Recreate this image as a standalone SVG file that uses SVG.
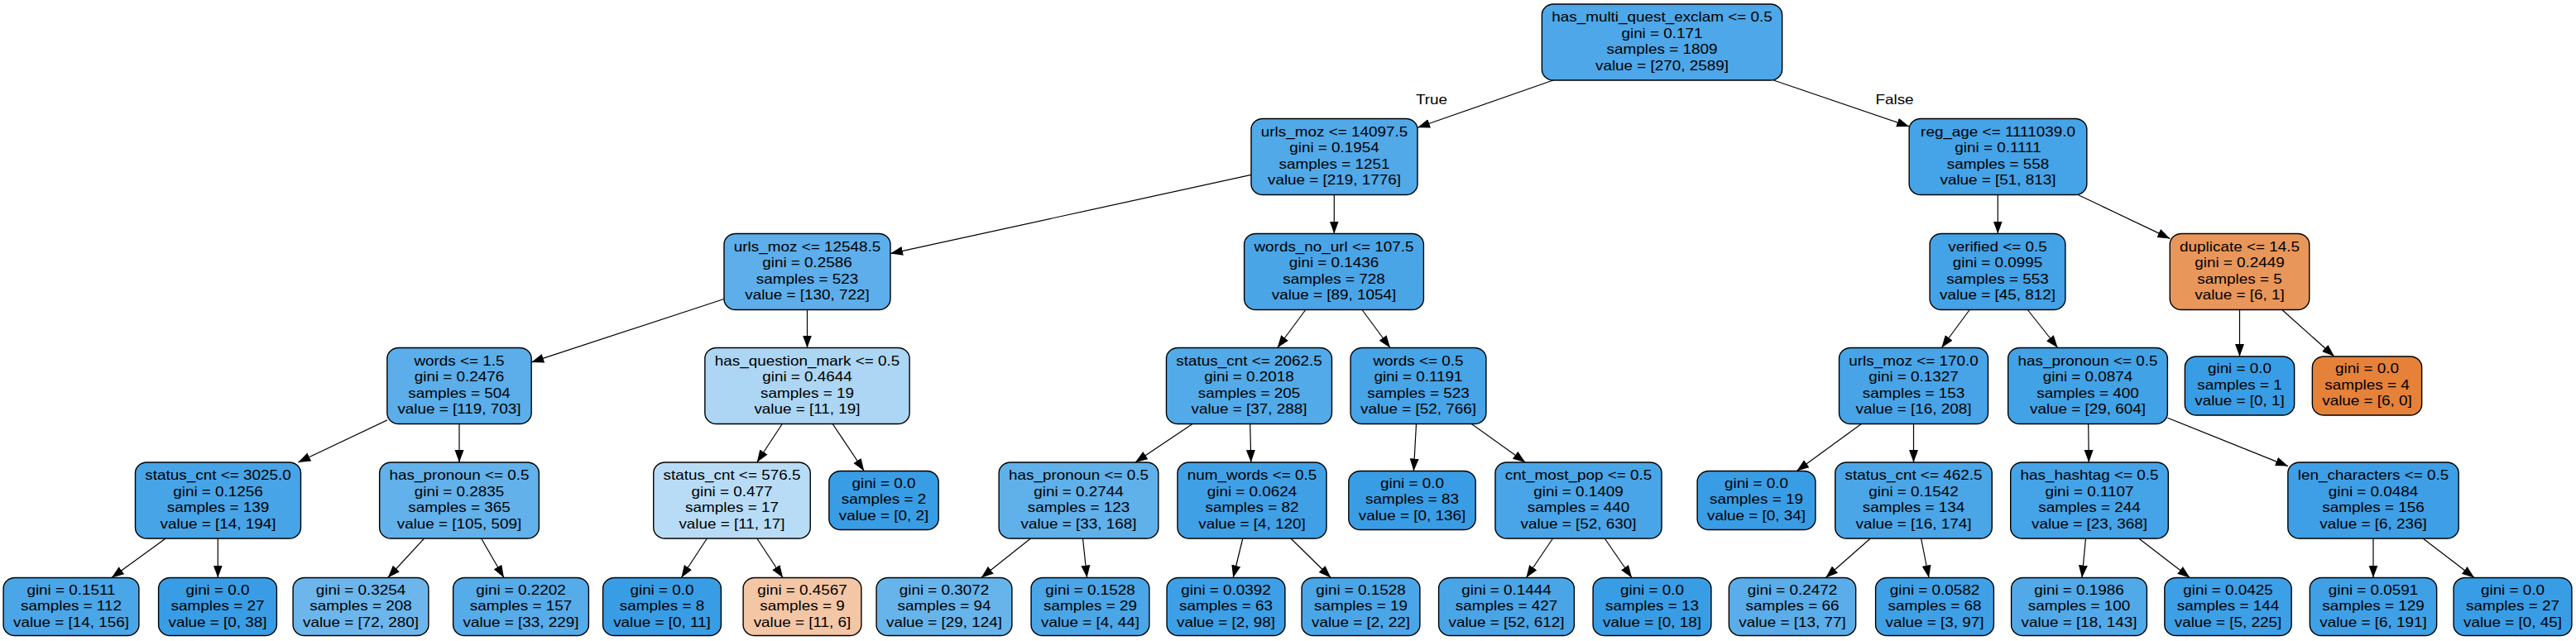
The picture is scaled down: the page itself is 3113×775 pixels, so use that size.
<svg xmlns="http://www.w3.org/2000/svg" width="3113" height="775" viewBox="0 0 3113 775">
<style>
.n rect{stroke:#000;stroke-width:1.4}
text{font-family:"Liberation Sans",Arial,Helvetica,sans-serif;font-size:16.5px;fill:#000;text-anchor:middle}
#edges line{stroke:#000;stroke-width:1.2;marker-end:url(#ah)}
</style>
<defs>
<marker id="ah" markerUnits="userSpaceOnUse" markerWidth="16" markerHeight="12" refX="15" refY="5.5" orient="auto"><path d="M0,0 L15,5.5 L0,11 z" fill="#000"/></marker>
</defs>
<rect width="3113" height="775" fill="#fff"/>
<g id="edges">
<line x1="1877" y1="97" x2="1713" y2="154.3"/>
<line x1="2143.3" y1="97" x2="2307.2" y2="152.9"/>
<line x1="1512" y1="211.4" x2="1076" y2="306.6"/>
<line x1="1612.3" y1="235.5" x2="1612.3" y2="282.5"/>
<line x1="2414.3" y1="235.5" x2="2414.3" y2="282.5"/>
<line x1="2511.1" y1="235.5" x2="2622.3" y2="288.4"/>
<line x1="875" y1="361.5" x2="642.2" y2="437.9"/>
<line x1="975.5" y1="374.5" x2="975.5" y2="420.5"/>
<line x1="1577.8" y1="374.5" x2="1543.7" y2="420.5"/>
<line x1="1646" y1="374.5" x2="1680" y2="420.5"/>
<line x1="2380.2" y1="374.5" x2="2346.3" y2="420.5"/>
<line x1="2450.3" y1="374.5" x2="2486.7" y2="420.5"/>
<line x1="2706.5" y1="374.5" x2="2706.5" y2="431"/>
<line x1="2757.8" y1="374.5" x2="2820.9" y2="431"/>
<line x1="467.9" y1="507.9" x2="360.3" y2="559"/>
<line x1="555" y1="512.5" x2="555" y2="559"/>
<line x1="945.3" y1="512.5" x2="914.7" y2="559"/>
<line x1="1006.2" y1="512.5" x2="1044.3" y2="569.5"/>
<line x1="1441.1" y1="512.5" x2="1371.9" y2="559"/>
<line x1="1510.7" y1="512.5" x2="1511.8" y2="559"/>
<line x1="1711.5" y1="512.5" x2="1708.4" y2="569.5"/>
<line x1="1778.2" y1="512.5" x2="1843.3" y2="559"/>
<line x1="2249.4" y1="512.5" x2="2171.2" y2="569.5"/>
<line x1="2312.5" y1="512.5" x2="2312.5" y2="559"/>
<line x1="2523.7" y1="512.5" x2="2524.3" y2="559"/>
<line x1="2619.4" y1="505.2" x2="2764.9" y2="563.6"/>
<line x1="200.2" y1="651" x2="134.8" y2="698.5"/>
<line x1="263.3" y1="651" x2="263.3" y2="698.5"/>
<line x1="512.6" y1="651" x2="468.7" y2="698.5"/>
<line x1="581.6" y1="651" x2="609" y2="698.5"/>
<line x1="854.4" y1="651" x2="823.3" y2="698.5"/>
<line x1="914.8" y1="651" x2="946.1" y2="698.5"/>
<line x1="1245.5" y1="651" x2="1185.7" y2="698.5"/>
<line x1="1308.5" y1="651" x2="1313.6" y2="698.5"/>
<line x1="1501.8" y1="651" x2="1490.2" y2="698.5"/>
<line x1="1559.9" y1="651" x2="1608.3" y2="698.5"/>
<line x1="1876.5" y1="651" x2="1844.4" y2="698.5"/>
<line x1="1939.2" y1="651" x2="1972" y2="698.5"/>
<line x1="2260.3" y1="651" x2="2206.3" y2="698.5"/>
<line x1="2321.6" y1="651" x2="2331" y2="698.5"/>
<line x1="2520.5" y1="651" x2="2516" y2="698.5"/>
<line x1="2584.7" y1="651" x2="2646.4" y2="698.5"/>
<line x1="2868" y1="651" x2="2868" y2="698.5"/>
<line x1="2928.1" y1="651" x2="2990.1" y2="698.5"/>
<text transform="translate(1730 0) scale(1.145 1)" x="0" y="126">True</text>
<text transform="translate(2289.5 0) scale(1.145 1)" x="0" y="126">False</text>
</g>
<g id="node0" class="n"><rect x="1863.35" y="5" width="290.3" height="92" rx="14" ry="13" fill="#4ea7e8"/><text transform="translate(2008.5 0) scale(1.145 1)"><tspan x="0" y="26.25">has_multi_quest_exclam &lt;= 0.5</tspan><tspan x="0" y="45.75">gini = 0.171</tspan><tspan x="0" y="65.25">samples = 1809</tspan><tspan x="0" y="84.75">value = [270, 2589]</tspan></text></g>
<g id="node1" class="n"><rect x="1512" y="143.5" width="201" height="92" rx="14" ry="13" fill="#51a9e8"/><text transform="translate(1612.5 0) scale(1.145 1)"><tspan x="0" y="164.75">urls_moz &lt;= 14097.5</tspan><tspan x="0" y="184.25">gini = 0.1954</tspan><tspan x="0" y="203.75">samples = 1251</tspan><tspan x="0" y="223.25">value = [219, 1776]</tspan></text></g>
<g id="node2" class="n"><rect x="2307.15" y="143.5" width="214.7" height="92" rx="14" ry="13" fill="#45a3e7"/><text transform="translate(2414.5 0) scale(1.145 1)"><tspan x="0" y="164.75">reg_age &lt;= 1111039.0</tspan><tspan x="0" y="184.25">gini = 0.1111</tspan><tspan x="0" y="203.75">samples = 558</tspan><tspan x="0" y="223.25">value = [51, 813]</tspan></text></g>
<g id="node3" class="n"><rect x="875" y="282.5" width="201" height="92" rx="14" ry="13" fill="#5daeea"/><text transform="translate(975.5 0) scale(1.145 1)"><tspan x="0" y="303.75">urls_moz &lt;= 12548.5</tspan><tspan x="0" y="323.25">gini = 0.2586</tspan><tspan x="0" y="342.75">samples = 523</tspan><tspan x="0" y="362.25">value = [130, 722]</tspan></text></g>
<g id="node4" class="n"><rect x="1503.6" y="282.5" width="216.8" height="92" rx="14" ry="13" fill="#4aa5e7"/><text transform="translate(1612 0) scale(1.145 1)"><tspan x="0" y="303.75">words_no_url &lt;= 107.5</tspan><tspan x="0" y="323.25">gini = 0.1436</tspan><tspan x="0" y="342.75">samples = 728</tspan><tspan x="0" y="362.25">value = [89, 1054]</tspan></text></g>
<g id="node5" class="n"><rect x="2332.1" y="282.5" width="163.8" height="92" rx="14" ry="13" fill="#44a2e6"/><text transform="translate(2414 0) scale(1.145 1)"><tspan x="0" y="303.75">verified &lt;= 0.5</tspan><tspan x="0" y="323.25">gini = 0.0995</tspan><tspan x="0" y="342.75">samples = 553</tspan><tspan x="0" y="362.25">value = [45, 812]</tspan></text></g>
<g id="node6" class="n"><rect x="2622.25" y="282.5" width="168.5" height="92" rx="14" ry="13" fill="#e9965a"/><text transform="translate(2706.5 0) scale(1.145 1)"><tspan x="0" y="303.75">duplicate &lt;= 14.5</tspan><tspan x="0" y="323.25">gini = 0.2449</tspan><tspan x="0" y="342.75">samples = 5</tspan><tspan x="0" y="362.25">value = [6, 1]</tspan></text></g>
<g id="node7" class="n"><rect x="467.85" y="420.5" width="174.3" height="92" rx="14" ry="13" fill="#5baee9"/><text transform="translate(555 0) scale(1.145 1)"><tspan x="0" y="441.75">words &lt;= 1.5</tspan><tspan x="0" y="461.25">gini = 0.2476</tspan><tspan x="0" y="480.75">samples = 504</tspan><tspan x="0" y="500.25">value = [119, 703]</tspan></text></g>
<g id="node8" class="n"><rect x="851.85" y="420.5" width="247.3" height="92" rx="14" ry="13" fill="#acd6f4"/><text transform="translate(975.5 0) scale(1.145 1)"><tspan x="0" y="441.75">has_question_mark &lt;= 0.5</tspan><tspan x="0" y="461.25">gini = 0.4644</tspan><tspan x="0" y="480.75">samples = 19</tspan><tspan x="0" y="500.25">value = [11, 19]</tspan></text></g>
<g id="node9" class="n"><rect x="1409.5" y="420.5" width="200" height="92" rx="14" ry="13" fill="#52aae8"/><text transform="translate(1509.5 0) scale(1.145 1)"><tspan x="0" y="441.75">status_cnt &lt;= 2062.5</tspan><tspan x="0" y="461.25">gini = 0.2018</tspan><tspan x="0" y="480.75">samples = 205</tspan><tspan x="0" y="500.25">value = [37, 288]</tspan></text></g>
<g id="node10" class="n"><rect x="1632.1" y="420.5" width="163.8" height="92" rx="14" ry="13" fill="#46a4e7"/><text transform="translate(1714 0) scale(1.145 1)"><tspan x="0" y="441.75">words &lt;= 0.5</tspan><tspan x="0" y="461.25">gini = 0.1191</tspan><tspan x="0" y="480.75">samples = 523</tspan><tspan x="0" y="500.25">value = [52, 766]</tspan></text></g>
<g id="node11" class="n"><rect x="2222.5" y="420.5" width="180" height="92" rx="14" ry="13" fill="#48a4e7"/><text transform="translate(2312.5 0) scale(1.145 1)"><tspan x="0" y="441.75">urls_moz &lt;= 170.0</tspan><tspan x="0" y="461.25">gini = 0.1327</tspan><tspan x="0" y="480.75">samples = 153</tspan><tspan x="0" y="500.25">value = [16, 208]</tspan></text></g>
<g id="node12" class="n"><rect x="2426.65" y="420.5" width="192.7" height="92" rx="14" ry="13" fill="#42a2e6"/><text transform="translate(2523 0) scale(1.145 1)"><tspan x="0" y="441.75">has_pronoun &lt;= 0.5</tspan><tspan x="0" y="461.25">gini = 0.0874</tspan><tspan x="0" y="480.75">samples = 400</tspan><tspan x="0" y="500.25">value = [29, 604]</tspan></text></g>
<g id="node13" class="n"><rect x="2640.35" y="431" width="132.3" height="71" rx="14" ry="13" fill="#399de5"/><text transform="translate(2706.5 0) scale(1.145 1)"><tspan x="0" y="451.5">gini = 0.0</tspan><tspan x="0" y="471">samples = 1</tspan><tspan x="0" y="490.5">value = [0, 1]</tspan></text></g>
<g id="node14" class="n"><rect x="2794.35" y="431" width="132.3" height="71" rx="14" ry="13" fill="#e58139"/><text transform="translate(2860.5 0) scale(1.145 1)"><tspan x="0" y="451.5">gini = 0.0</tspan><tspan x="0" y="471">samples = 4</tspan><tspan x="0" y="490.5">value = [6, 0]</tspan></text></g>
<g id="node15" class="n"><rect x="163.5" y="559" width="200" height="92" rx="14" ry="13" fill="#47a4e7"/><text transform="translate(263.5 0) scale(1.145 1)"><tspan x="0" y="580.25">status_cnt &lt;= 3025.0</tspan><tspan x="0" y="599.75">gini = 0.1256</tspan><tspan x="0" y="619.25">samples = 139</tspan><tspan x="0" y="638.75">value = [14, 194]</tspan></text></g>
<g id="node16" class="n"><rect x="458.65" y="559" width="192.7" height="92" rx="14" ry="13" fill="#62b1ea"/><text transform="translate(555 0) scale(1.145 1)"><tspan x="0" y="580.25">has_pronoun &lt;= 0.5</tspan><tspan x="0" y="599.75">gini = 0.2835</tspan><tspan x="0" y="619.25">samples = 365</tspan><tspan x="0" y="638.75">value = [105, 509]</tspan></text></g>
<g id="node17" class="n"><rect x="789.75" y="559" width="189.5" height="92" rx="14" ry="13" fill="#b9dcf6"/><text transform="translate(884.5 0) scale(1.145 1)"><tspan x="0" y="580.25">status_cnt &lt;= 576.5</tspan><tspan x="0" y="599.75">gini = 0.477</tspan><tspan x="0" y="619.25">samples = 17</tspan><tspan x="0" y="638.75">value = [11, 17]</tspan></text></g>
<g id="node18" class="n"><rect x="1001.85" y="569.5" width="132.3" height="71" rx="14" ry="13" fill="#399de5"/><text transform="translate(1068 0) scale(1.145 1)"><tspan x="0" y="590">gini = 0.0</tspan><tspan x="0" y="609.5">samples = 2</tspan><tspan x="0" y="629">value = [0, 2]</tspan></text></g>
<g id="node19" class="n"><rect x="1207.15" y="559" width="192.7" height="92" rx="14" ry="13" fill="#60b0ea"/><text transform="translate(1303.5 0) scale(1.145 1)"><tspan x="0" y="580.25">has_pronoun &lt;= 0.5</tspan><tspan x="0" y="599.75">gini = 0.2744</tspan><tspan x="0" y="619.25">samples = 123</tspan><tspan x="0" y="638.75">value = [33, 168]</tspan></text></g>
<g id="node20" class="n"><rect x="1423" y="559" width="180" height="92" rx="14" ry="13" fill="#40a0e6"/><text transform="translate(1513 0) scale(1.145 1)"><tspan x="0" y="580.25">num_words &lt;= 0.5</tspan><tspan x="0" y="599.75">gini = 0.0624</tspan><tspan x="0" y="619.25">samples = 82</tspan><tspan x="0" y="638.75">value = [4, 120]</tspan></text></g>
<g id="node21" class="n"><rect x="1629.85" y="569.5" width="153.3" height="71" rx="14" ry="13" fill="#399de5"/><text transform="translate(1706.5 0) scale(1.145 1)"><tspan x="0" y="590">gini = 0.0</tspan><tspan x="0" y="609.5">samples = 83</tspan><tspan x="0" y="629">value = [0, 136]</tspan></text></g>
<g id="node22" class="n"><rect x="1806.95" y="559" width="201.1" height="92" rx="14" ry="13" fill="#49a5e7"/><text transform="translate(1907.5 0) scale(1.145 1)"><tspan x="0" y="580.25">cnt_most_pop &lt;= 0.5</tspan><tspan x="0" y="599.75">gini = 0.1409</tspan><tspan x="0" y="619.25">samples = 440</tspan><tspan x="0" y="638.75">value = [52, 630]</tspan></text></g>
<g id="node23" class="n"><rect x="2051.1" y="569.5" width="142.8" height="71" rx="14" ry="13" fill="#399de5"/><text transform="translate(2122.5 0) scale(1.145 1)"><tspan x="0" y="590">gini = 0.0</tspan><tspan x="0" y="609.5">samples = 19</tspan><tspan x="0" y="629">value = [0, 34]</tspan></text></g>
<g id="node24" class="n"><rect x="2217.75" y="559" width="189.5" height="92" rx="14" ry="13" fill="#4ba6e7"/><text transform="translate(2312.5 0) scale(1.145 1)"><tspan x="0" y="580.25">status_cnt &lt;= 462.5</tspan><tspan x="0" y="599.75">gini = 0.1542</tspan><tspan x="0" y="619.25">samples = 134</tspan><tspan x="0" y="638.75">value = [16, 174]</tspan></text></g>
<g id="node25" class="n"><rect x="2429.7" y="559" width="190.6" height="92" rx="14" ry="13" fill="#45a3e7"/><text transform="translate(2525 0) scale(1.145 1)"><tspan x="0" y="580.25">has_hashtag &lt;= 0.5</tspan><tspan x="0" y="599.75">gini = 0.1107</tspan><tspan x="0" y="619.25">samples = 244</tspan><tspan x="0" y="638.75">value = [23, 368]</tspan></text></g>
<g id="node26" class="n"><rect x="2764.85" y="559" width="206.3" height="92" rx="14" ry="13" fill="#3e9fe6"/><text transform="translate(2868 0) scale(1.145 1)"><tspan x="0" y="580.25">len_characters &lt;= 0.5</tspan><tspan x="0" y="599.75">gini = 0.0484</tspan><tspan x="0" y="619.25">samples = 156</tspan><tspan x="0" y="638.75">value = [6, 236]</tspan></text></g>
<g id="node27" class="n"><rect x="4.1" y="698.5" width="163.8" height="70" rx="14" ry="13" fill="#4ba6e7"/><text transform="translate(86 0) scale(1.145 1)"><tspan x="0" y="719">gini = 0.1511</tspan><tspan x="0" y="738.5">samples = 112</tspan><tspan x="0" y="758">value = [14, 156]</tspan></text></g>
<g id="node28" class="n"><rect x="191.6" y="698.5" width="142.8" height="70" rx="14" ry="13" fill="#399de5"/><text transform="translate(263 0) scale(1.145 1)"><tspan x="0" y="719">gini = 0.0</tspan><tspan x="0" y="738.5">samples = 27</tspan><tspan x="0" y="758">value = [0, 38]</tspan></text></g>
<g id="node29" class="n"><rect x="354.1" y="698.5" width="163.8" height="70" rx="14" ry="13" fill="#6cb6ec"/><text transform="translate(436 0) scale(1.145 1)"><tspan x="0" y="719">gini = 0.3254</tspan><tspan x="0" y="738.5">samples = 208</tspan><tspan x="0" y="758">value = [72, 280]</tspan></text></g>
<g id="node30" class="n"><rect x="547.6" y="698.5" width="163.8" height="70" rx="14" ry="13" fill="#56abe9"/><text transform="translate(629.5 0) scale(1.145 1)"><tspan x="0" y="719">gini = 0.2202</tspan><tspan x="0" y="738.5">samples = 157</tspan><tspan x="0" y="758">value = [33, 229]</tspan></text></g>
<g id="node31" class="n"><rect x="728.6" y="698.5" width="142.8" height="70" rx="14" ry="13" fill="#399de5"/><text transform="translate(800 0) scale(1.145 1)"><tspan x="0" y="719">gini = 0.0</tspan><tspan x="0" y="738.5">samples = 8</tspan><tspan x="0" y="758">value = [0, 11]</tspan></text></g>
<g id="node32" class="n"><rect x="898.1" y="698.5" width="142.8" height="70" rx="14" ry="13" fill="#f3c6a5"/><text transform="translate(969.5 0) scale(1.145 1)"><tspan x="0" y="719">gini = 0.4567</tspan><tspan x="0" y="738.5">samples = 9</tspan><tspan x="0" y="758">value = [11, 6]</tspan></text></g>
<g id="node33" class="n"><rect x="1059.1" y="698.5" width="163.8" height="70" rx="14" ry="13" fill="#67b4eb"/><text transform="translate(1141 0) scale(1.145 1)"><tspan x="0" y="719">gini = 0.3072</tspan><tspan x="0" y="738.5">samples = 94</tspan><tspan x="0" y="758">value = [29, 124]</tspan></text></g>
<g id="node34" class="n"><rect x="1246.1" y="698.5" width="142.8" height="70" rx="14" ry="13" fill="#4ba6e7"/><text transform="translate(1317.5 0) scale(1.145 1)"><tspan x="0" y="719">gini = 0.1528</tspan><tspan x="0" y="738.5">samples = 29</tspan><tspan x="0" y="758">value = [4, 44]</tspan></text></g>
<g id="node35" class="n"><rect x="1410.1" y="698.5" width="142.8" height="70" rx="14" ry="13" fill="#3d9fe6"/><text transform="translate(1481.5 0) scale(1.145 1)"><tspan x="0" y="719">gini = 0.0392</tspan><tspan x="0" y="738.5">samples = 63</tspan><tspan x="0" y="758">value = [2, 98]</tspan></text></g>
<g id="node36" class="n"><rect x="1573.1" y="698.5" width="142.8" height="70" rx="14" ry="13" fill="#4ba6e7"/><text transform="translate(1644.5 0) scale(1.145 1)"><tspan x="0" y="719">gini = 0.1528</tspan><tspan x="0" y="738.5">samples = 19</tspan><tspan x="0" y="758">value = [2, 22]</tspan></text></g>
<g id="node37" class="n"><rect x="1738.6" y="698.5" width="163.8" height="70" rx="14" ry="13" fill="#4aa5e7"/><text transform="translate(1820.5 0) scale(1.145 1)"><tspan x="0" y="719">gini = 0.1444</tspan><tspan x="0" y="738.5">samples = 427</tspan><tspan x="0" y="758">value = [52, 612]</tspan></text></g>
<g id="node38" class="n"><rect x="1925.1" y="698.5" width="142.8" height="70" rx="14" ry="13" fill="#399de5"/><text transform="translate(1996.5 0) scale(1.145 1)"><tspan x="0" y="719">gini = 0.0</tspan><tspan x="0" y="738.5">samples = 13</tspan><tspan x="0" y="758">value = [0, 18]</tspan></text></g>
<g id="node39" class="n"><rect x="2089.35" y="698.5" width="153.3" height="70" rx="14" ry="13" fill="#5aade9"/><text transform="translate(2166 0) scale(1.145 1)"><tspan x="0" y="719">gini = 0.2472</tspan><tspan x="0" y="738.5">samples = 66</tspan><tspan x="0" y="758">value = [13, 77]</tspan></text></g>
<g id="node40" class="n"><rect x="2266.6" y="698.5" width="142.8" height="70" rx="14" ry="13" fill="#3fa0e6"/><text transform="translate(2338 0) scale(1.145 1)"><tspan x="0" y="719">gini = 0.0582</tspan><tspan x="0" y="738.5">samples = 68</tspan><tspan x="0" y="758">value = [3, 97]</tspan></text></g>
<g id="node41" class="n"><rect x="2430.6" y="698.5" width="163.8" height="70" rx="14" ry="13" fill="#52a9e8"/><text transform="translate(2512.5 0) scale(1.145 1)"><tspan x="0" y="719">gini = 0.1986</tspan><tspan x="0" y="738.5">samples = 100</tspan><tspan x="0" y="758">value = [18, 143]</tspan></text></g>
<g id="node42" class="n"><rect x="2615.85" y="698.5" width="153.3" height="70" rx="14" ry="13" fill="#3d9fe6"/><text transform="translate(2692.5 0) scale(1.145 1)"><tspan x="0" y="719">gini = 0.0425</tspan><tspan x="0" y="738.5">samples = 144</tspan><tspan x="0" y="758">value = [5, 225]</tspan></text></g>
<g id="node43" class="n"><rect x="2791.35" y="698.5" width="153.3" height="70" rx="14" ry="13" fill="#3fa0e6"/><text transform="translate(2868 0) scale(1.145 1)"><tspan x="0" y="719">gini = 0.0591</tspan><tspan x="0" y="738.5">samples = 129</tspan><tspan x="0" y="758">value = [6, 191]</tspan></text></g>
<g id="node44" class="n"><rect x="2965.1" y="698.5" width="142.8" height="70" rx="14" ry="13" fill="#399de5"/><text transform="translate(3036.5 0) scale(1.145 1)"><tspan x="0" y="719">gini = 0.0</tspan><tspan x="0" y="738.5">samples = 27</tspan><tspan x="0" y="758">value = [0, 45]</tspan></text></g>
</svg>
